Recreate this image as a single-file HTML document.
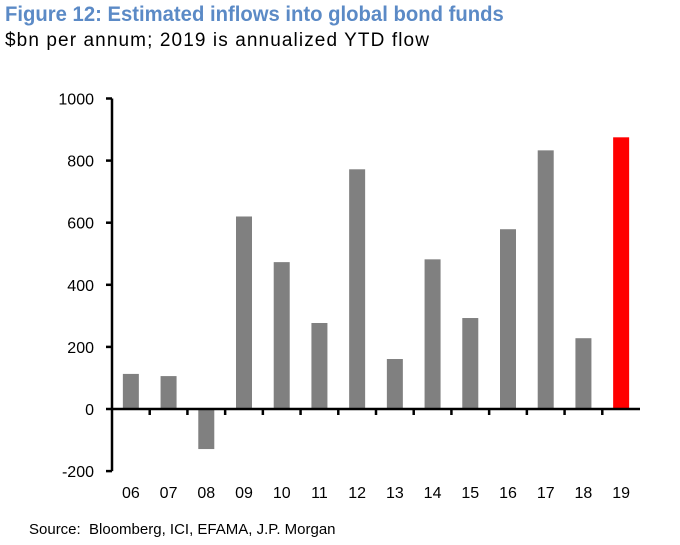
<!DOCTYPE html>
<html><head><meta charset="utf-8"><style>
body{margin:0;background:#fff;width:680px;height:545px;overflow:hidden;font-family:"Liberation Sans",Arial,sans-serif}
#t{position:absolute;left:5px;top:3px;font-size:21px;font-weight:bold;color:#5b8ac6;white-space:nowrap;transform:scaleX(0.965);transform-origin:0 0}
#s{position:absolute;left:5px;top:30px;font-size:19px;letter-spacing:1.1px;color:#000;white-space:nowrap}
#src{position:absolute;left:29px;top:521px;font-size:15px;color:#000;white-space:nowrap}
svg{position:absolute;left:0;top:0}
</style></head><body>
<div id="t">Figure 12: Estimated inflows into global bond funds</div>
<div id="s">$bn per annum; 2019 is annualized YTD flow</div>
<div id="src">Source:&nbsp; Bloomberg, ICI, EFAMA, J.P. Morgan</div>
<svg id="c" width="680" height="545"></svg>
<script>
const categories=["06","07","08","09","10","11","12","13","14","15","16","17","18","19"];
const values=[113,106,-129,620,473,277,772,161,482,293,579,833,228,875];
const yTicks=[-200,0,200,400,600,800,1000];
const NS="http://www.w3.org/2000/svg",svg=document.getElementById('c');
const x0=112,x1=640,band=(x1-x0)/categories.length;
function y(v){return 409-v*0.3105;}
function xc(i){return x0+band*(i+0.5);}
function el(t,a){const e=document.createElementNS(NS,t);for(const k in a)e.setAttribute(k,a[k]);svg.appendChild(e);return e;}
values.forEach((v,i)=>{
 const r=el('rect',{x:xc(i)-8,y:Math.min(y(v),y(0)),width:16,height:Math.abs(y(v)-y(0)),fill:i==values.length-1?'#ff0000':'#808080'});
 
 
 const t=el('text',{x:xc(i),y:498,'text-anchor':'middle','font-size':'16','font-family':'Liberation Sans, Arial, sans-serif'});
 t.textContent=categories[i];
 
 
});
yTicks.forEach(v=>{
 el('line',{x1:106,x2:x0,y1:y(v),y2:y(v),stroke:'#000','stroke-width':2.5});
 const t=el('text',{x:94,y:y(v)+6,'text-anchor':'end','font-size':'16','font-family':'Liberation Sans, Arial, sans-serif'});
 t.textContent=v;
 
 
});
for(let i=1;i<categories.length;i++){el('line',{x1:x0+band*i,x2:x0+band*i,y1:y(0),y2:y(0)+6,stroke:'#000','stroke-width':2.5});}
const ya=el('line',{x1:x0,x2:x0,y1:y(1000),y2:y(-200),stroke:'#000','stroke-width':2.5});


const xa=el('line',{x1:x0,x2:x1,y1:y(0),y2:y(0),stroke:'#000','stroke-width':2.5});


</script>
</body></html>
